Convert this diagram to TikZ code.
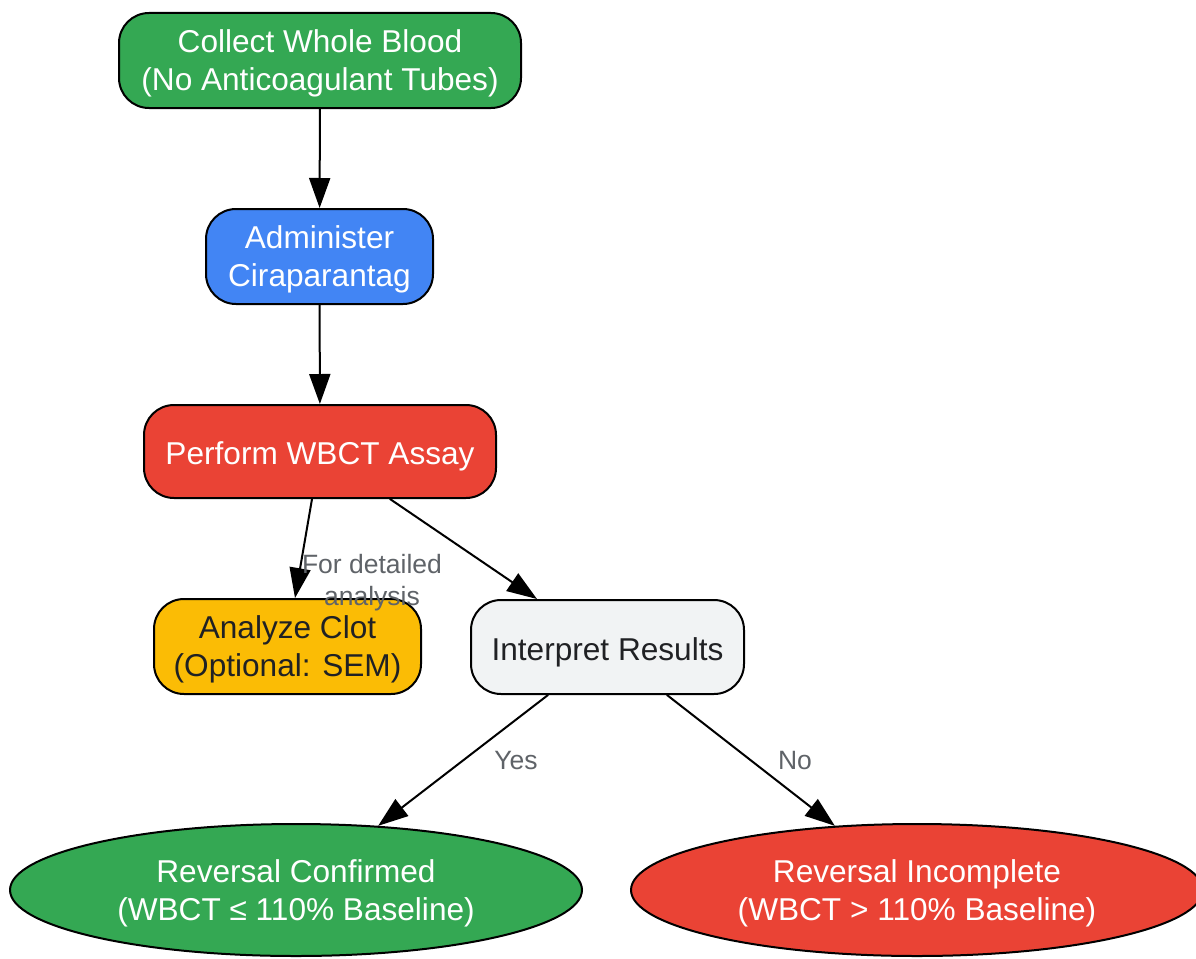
\documentclass[tikz,border=0pt]{standalone}
\usepackage{fontspec}
\setmainfont{Liberation Sans}
\usepackage{tikz}
\usetikzlibrary{arrows.meta,shapes.geometric}
\definecolor{ggreen}{HTML}{34A853}
\definecolor{gblue}{HTML}{4285F4}
\definecolor{gred}{HTML}{EA4335}
\definecolor{gyellow}{HTML}{FBBC05}
\definecolor{glight}{HTML}{F1F3F4}
\definecolor{gdark}{HTML}{202124}
\definecolor{ggray}{HTML}{5F6368}
\tikzset{
  stepbox/.style={draw=black,line width=2pt,rounded corners=30pt,align=center,inner sep=0pt,text depth=0pt,text=white,font=\fontsize{31.6}{38}\selectfont,execute at begin node={\rule{0pt}{26pt}}},
  endoval/.style={ellipse,draw=black,line width=2pt,align=center,inner sep=0pt,text depth=0pt,text=white,minimum width=572pt,minimum height=132pt,font=\fontsize{31.6}{38}\selectfont,execute at begin node={\rule{0pt}{29pt}}},
  elabel/.style={text=ggray,align=center,font=\fontsize{26.5}{32}\selectfont}
}
\begin{document}
\begin{tikzpicture}[line cap=round,line join=round,>={Triangle[length=30pt,width=21pt]},x=1pt,y=-1pt]
    \useasboundingbox (0,0) rectangle (1196,958);
    \clip (0,0) rectangle (1196,958);
    \node [stepbox,fill=ggreen,minimum width=402pt,minimum height=95pt] (collect) at (320,60.5) {Collect Whole Blood\\(No Anticoagulant Tubes)};
    \node [stepbox,fill=gblue,minimum width=227pt,minimum height=95pt] (administer) at (319.5,256.5) {Administer\\Ciraparantag};
    \node [stepbox,fill=gred,minimum width=352pt,minimum height=93pt] (perform) at (320,451.5) {Perform WBCT Assay};
    \node [stepbox,fill=gyellow,text=gdark,minimum width=267pt,minimum height=95pt] (analyze) at (287.5,646.5) {Analyze Clot\\(Optional: SEM)};
    \node [stepbox,fill=glight,text=gdark,minimum width=273pt,minimum height=94pt] (interpret) at (607.5,647) {Interpret Results};
    \node [endoval,fill=ggreen] (confirmed) at (296,890) {Reversal Confirmed\\(WBCT ≤ 110\% Baseline)};
    \node [endoval,fill=gred] (incomplete) at (917,890) {Reversal Incomplete\\(WBCT > 110\% Baseline)};
    \draw [->,line width=2pt] (collect) -- (administer);
    \draw [->,line width=2pt] (administer) -- (perform);
    \draw [->,line width=2pt] ([xshift=-8pt]perform.south) -- ([xshift=7.5pt]analyze.north);
    \draw [->,line width=2pt] ([xshift=70pt]perform.south) -- ([xshift=-70.5pt]interpret.north);
    \draw [->,line width=2pt] ([xshift=-59.5pt]interpret.south) -- (confirmed.38);
    \draw [->,line width=2pt] ([xshift=59.5pt]interpret.south) -- (incomplete.142);
    \node [elabel] (detail) at (372,583) {For detailed\\analysis};
    \node [elabel] (yes) at (516,761) {Yes};
    \node [elabel] (no) at (795,761) {No};
\end{tikzpicture}
\end{document}
